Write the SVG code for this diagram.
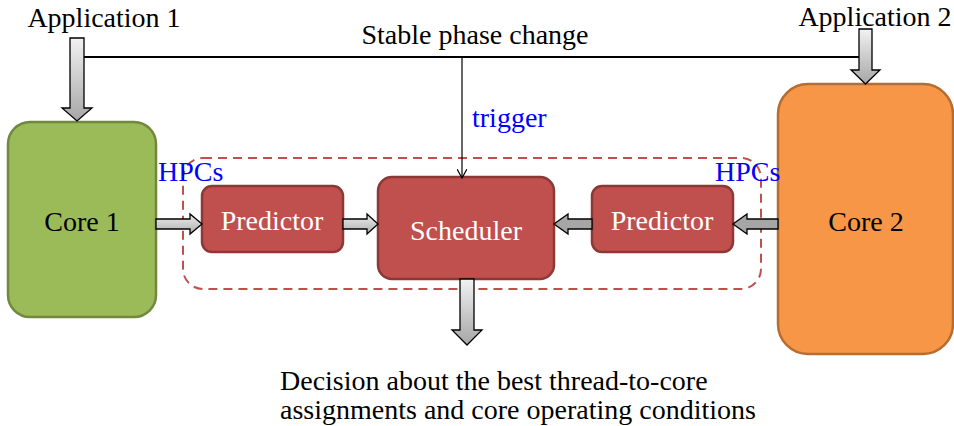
<svg xmlns="http://www.w3.org/2000/svg" width="954" height="426" viewBox="0 0 954 426">
  <defs>
    <linearGradient id="gv" x1="0" y1="0" x2="0" y2="1">
      <stop offset="0" stop-color="#f2f2f2"/>
      <stop offset="1" stop-color="#a6a6a6"/>
    </linearGradient>
    <linearGradient id="gh" x1="0" y1="0" x2="0" y2="1">
      <stop offset="0" stop-color="#ececec"/>
      <stop offset="1" stop-color="#b0b0b0"/>
    </linearGradient>
    <marker id="open" viewBox="0 0 10 10" refX="9" refY="5" markerWidth="10" markerHeight="10" orient="auto" markerUnits="userSpaceOnUse">
      <path d="M0,0 L9,5 L0,10" fill="none" stroke="#000" stroke-width="1.2"/>
    </marker>
  </defs>
  <style>
    text { font-family: "Liberation Serif", "Times New Roman", serif; font-size: 28px; }
    .lbl { fill: #000; }
    .blue { fill: #0000ff; }
    .wt { fill: #ffffff; text-anchor: middle; }
    .bk { fill: #000; text-anchor: middle; }
    .red { fill: #c0504d; stroke: #8c3836; stroke-width: 2.5; }
    .blk { stroke: #000; stroke-width: 1.3; stroke-linejoin: miter; }
  </style>

  <rect width="954" height="426" fill="#ffffff"/>

  <!-- dashed boundary around predictors and scheduler -->
  <rect id="group-box" x="183" y="158" width="578" height="131" rx="20" fill="none" stroke="#c0504d" stroke-width="2" stroke-dasharray="9,6"/>

  <g id="core1">
    <rect x="8" y="122" width="148" height="195" rx="22" fill="#9bbb59" stroke="#71893f" stroke-width="2.5"/>
    <text class="bk" x="82" y="231">Core 1</text>
  </g>

  <g id="core2">
    <rect x="778" y="84" width="175" height="270" rx="30" fill="#f79646" stroke="#b66d31" stroke-width="2.5"/>
    <text class="bk" x="866" y="231">Core 2</text>
  </g>

  <g id="predictor1">
    <rect class="red" x="202" y="186" width="141" height="66" rx="10"/>
    <text class="wt" x="272" y="230">Predictor</text>
  </g>

  <g id="scheduler">
    <rect class="red" x="378" y="177" width="176" height="102" rx="14"/>
    <text class="wt" x="466" y="240">Scheduler</text>
  </g>

  <g id="predictor2">
    <rect class="red" x="592" y="186" width="141" height="66" rx="10"/>
    <text class="wt" x="662" y="230">Predictor</text>
  </g>

  <g id="labels">
    <text class="lbl" x="104" y="27" text-anchor="middle">Application 1</text>
    <text class="lbl" x="875" y="26" text-anchor="middle">Application 2</text>
    <text class="lbl" x="475" y="44" text-anchor="middle">Stable phase change</text>
    <text class="blue" x="472" y="127">trigger</text>
    <text class="blue" x="158" y="181">HPCs</text>
    <text class="blue" x="715" y="181">HPCs</text>
    <text class="lbl" x="280" y="390">Decision about the best thread-to-core</text>
    <text class="lbl" x="280" y="419">assignments and core operating conditions</text>
  </g>

  <g id="connectors">
    <!-- phase-change bus and trigger line -->
    <line x1="84" y1="57" x2="860" y2="57" stroke="#000" stroke-width="2"/>
    <line x1="462" y1="57" x2="462" y2="178" stroke="#000" stroke-width="1.2" marker-end="url(#open)"/>

    <!-- Application 1 -> Core 1 -->
    <path class="blk" fill="url(#gv)" d="M70,38 H84 V108 H92 L77,121 L62,108 H70 Z"/>
    <!-- Application 2 -> Core 2 -->
    <path class="blk" fill="url(#gv)" d="M859,29 H872 V70 H880 L865.5,84 L851,70 H859 Z"/>

    <!-- Core 1 -> Predictor -->
    <path class="blk" fill="url(#gh)" d="M156,219 H190 V214 L202,224 L190,234 V229 H156 Z"/>
    <!-- Predictor -> Scheduler -->
    <path class="blk" fill="url(#gh)" d="M343,219 H367 V214 L378,224 L367,234 V229 H343 Z"/>
    <!-- Core 2 -> Predictor -->
    <path class="blk" fill="#a6a6a6" d="M778,219 H747 V214 L733,224 L747,234 V229 H778 Z"/>
    <!-- Predictor -> Scheduler -->
    <path class="blk" fill="#a6a6a6" d="M592,219 H568 V214 L554,224 L568,234 V229 H592 Z"/>

    <!-- Scheduler -> decision -->
    <path class="blk" fill="url(#gv)" d="M460,279 H474 V330 H482 L467,345 L452,330 H460 Z"/>
  </g>
</svg>
